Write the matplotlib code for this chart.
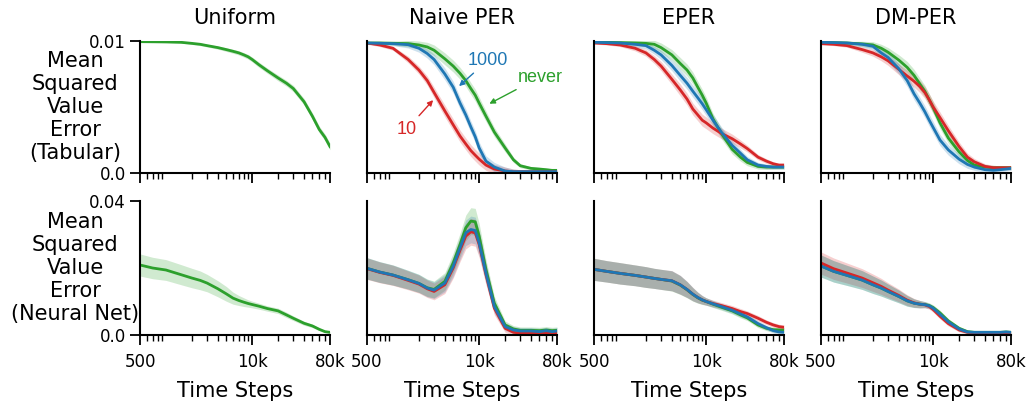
import numpy as np
import matplotlib
matplotlib.use('Agg')
import matplotlib.pyplot as plt
from matplotlib.ticker import NullFormatter

# time steps shared by every curve
steps = [500, 700, 1000, 1500, 2000, 2500, 3000, 4000, 5000, 6000, 7000, 8000,
         9000, 10000, 12000, 15000, 20000, 25000, 30000, 40000, 50000, 60000, 70000, 80000]

# ---- tabular MSVE (x 1e-3) ----
tab_uniform = [9.95, 9.94, 9.93, 9.9, 9.82, 9.75, 9.65, 9.5, 9.35, 9.22, 9.1, 8.95,
               8.8, 8.6, 8.2, 7.75, 7.2, 6.8, 6.4, 5.4, 4.3, 3.3, 2.7, 2.0]
tab_uniform_band = [0.05, 0.05, 0.06, 0.06, 0.08, 0.1, 0.1, 0.12, 0.14, 0.15, 0.16, 0.17,
                    0.18, 0.18, 0.2, 0.2, 0.22, 0.22, 0.24, 0.24, 0.25, 0.25, 0.25, 0.25]

tab_naive_10 = [9.85, 9.7, 9.45, 8.6, 7.8, 7.0, 6.1, 4.7, 3.65, 2.8, 2.2, 1.7,
                1.35, 1.05, 0.6, 0.3, 0.15, 0.1, 0.1, 0.1, 0.1, 0.1, 0.1, 0.1]
tab_naive_1000 = [9.85, 9.83, 9.8, 9.72, 9.45, 9.05, 8.6, 7.5, 6.5, 5.3, 4.4, 3.5,
                  2.75, 1.9, 0.9, 0.45, 0.15, 0.1, 0.1, 0.1, 0.1, 0.1, 0.1, 0.1]
tab_naive_never = [9.85, 9.85, 9.83, 9.8, 9.7, 9.55, 9.3, 8.65, 8.1, 7.55, 7.0, 6.4,
                   5.9, 5.3, 4.3, 3.1, 1.9, 1.0, 0.55, 0.35, 0.3, 0.25, 0.2, 0.2]
tab_naive_band = [0.1, 0.12, 0.15, 0.25, 0.3, 0.35, 0.4, 0.45, 0.45, 0.45, 0.45, 0.45,
                  0.45, 0.45, 0.4, 0.35, 0.3, 0.2, 0.15, 0.12, 0.12, 0.12, 0.12, 0.12]

tab_eper_10 = [9.85, 9.8, 9.7, 9.45, 9.1, 8.6, 8.1, 7.1, 6.3, 5.6, 4.85, 4.4,
               4.0, 3.8, 3.4, 3.0, 2.6, 2.2, 1.85, 1.2, 0.9, 0.7, 0.6, 0.6]
tab_eper_1000 = [9.9, 9.88, 9.85, 9.75, 9.65, 9.3, 8.95, 8.15, 7.4, 6.8, 6.2, 5.7,
                 5.25, 4.8, 4.0, 3.1, 2.1, 1.5, 1.0, 0.6, 0.5, 0.45, 0.45, 0.45]
tab_eper_never = [9.9, 9.9, 9.88, 9.85, 9.82, 9.75, 9.5, 8.95, 8.3, 7.8, 7.2, 6.5,
                  5.9, 5.3, 4.1, 3.0, 1.8, 1.2, 0.8, 0.5, 0.45, 0.45, 0.45, 0.45]
tab_eper_band = [0.08, 0.1, 0.12, 0.2, 0.25, 0.3, 0.35, 0.4, 0.45, 0.45, 0.45, 0.45,
                 0.45, 0.45, 0.42, 0.4, 0.35, 0.3, 0.25, 0.2, 0.18, 0.15, 0.15, 0.15]

tab_dm_10 = [9.8, 9.75, 9.65, 9.35, 9.1, 8.8, 8.5, 7.85, 7.35, 6.95, 6.55, 6.1,
             5.55, 5.0, 4.2, 3.2, 2.0, 1.2, 0.85, 0.5, 0.4, 0.4, 0.4, 0.4]
tab_dm_1000 = [9.9, 9.88, 9.85, 9.75, 9.6, 9.1, 8.75, 7.9, 7.0, 6.0, 5.3, 4.65,
               4.0, 3.45, 2.5, 1.75, 1.05, 0.65, 0.45, 0.25, 0.2, 0.25, 0.3, 0.35]
tab_dm_never = [9.9, 9.88, 9.85, 9.78, 9.7, 9.45, 9.15, 8.55, 8.0, 7.4, 6.75, 6.2,
                5.55, 4.95, 3.8, 2.65, 1.6, 0.95, 0.6, 0.45, 0.4, 0.4, 0.4, 0.4]
tab_dm_band = tab_eper_band

# ---- neural net MSVE (x 1e-3) ----
nn_uniform = [20.9, 20.0, 19.4, 18.0, 17.0, 16.3, 15.5, 13.8, 12.3, 11.0, 10.3, 9.8,
              9.4, 9.1, 8.6, 7.9, 7.2, 6.0, 5.0, 3.5, 2.7, 1.7, 1.0, 0.8]
nn_uniform_band = [3.3, 3.2, 3.1, 3.0, 2.9, 2.8, 2.6, 2.4, 2.2, 1.8, 1.5, 1.3,
                   1.1, 1.0, 0.9, 0.8, 0.8, 0.8, 0.7, 0.6, 0.5, 0.4, 0.3, 0.3]

nn_naive_10 = [19.8, 18.7, 17.8, 16.3, 15.2, 13.8, 13.0, 15.0, 20.0, 25.3, 29.5, 30.8,
               30.5, 27.0, 18.0, 8.0, 2.0, 0.8, 0.6, 0.6, 0.6, 0.6, 0.6, 0.6]
nn_naive_1000 = [19.9, 18.8, 17.9, 16.5, 15.4, 14.0, 13.4, 15.5, 20.5, 26.0, 30.5, 31.5,
                 31.2, 27.5, 18.4, 8.5, 2.5, 1.5, 1.2, 1.2, 1.0, 1.3, 1.0, 1.2]
nn_naive_never = [19.9, 18.8, 17.9, 16.5, 15.4, 14.1, 13.6, 16.0, 21.5, 27.0, 32.0, 34.0,
                  33.8, 29.5, 19.5, 9.5, 3.0, 1.8, 1.4, 1.4, 1.3, 1.5, 1.3, 1.4]
nn_naive_band = [3.2, 3.1, 3.0, 2.8, 2.7, 2.6, 2.5, 2.6, 3.0, 3.4, 3.8, 4.0,
                 4.0, 3.8, 3.0, 2.0, 1.2, 1.0, 1.0, 1.0, 1.0, 1.0, 1.0, 1.0]

nn_eper_10 = [19.6, 19.0, 18.4, 17.8, 17.3, 16.9, 16.6, 16.2, 15.0, 13.6, 12.2, 11.2,
              10.5, 10.0, 9.4, 8.8, 7.9, 7.0, 6.4, 5.0, 3.8, 3.0, 2.5, 2.3]
nn_eper_1000 = [19.6, 19.0, 18.4, 17.8, 17.3, 16.9, 16.6, 16.2, 15.0, 13.6, 12.2, 11.2,
                10.5, 10.0, 9.3, 8.5, 7.4, 6.3, 5.4, 3.4, 2.2, 1.3, 0.9, 0.8]
nn_eper_never = [19.6, 19.0, 18.4, 17.8, 17.3, 16.9, 16.6, 16.1, 14.9, 13.5, 12.1, 11.1,
                 10.4, 10.0, 9.2, 8.3, 7.2, 6.0, 5.1, 3.0, 2.0, 1.6, 1.5, 1.5]
nn_eper_band = [3.3, 3.2, 3.2, 3.1, 3.1, 3.0, 3.0, 3.0, 2.8, 2.4, 2.0, 1.6,
                1.3, 1.1, 1.0, 0.9, 0.9, 0.9, 0.8, 0.8, 0.7, 0.7, 0.7, 0.7]

nn_dm_10 = [21.5, 19.8, 18.5, 17.0, 15.6, 14.5, 13.4, 11.8, 10.4, 9.6, 9.2, 9.0,
            8.5, 7.6, 5.6, 3.4, 1.5, 0.8, 0.7, 0.7, 0.7, 0.7, 0.7, 0.7]
nn_dm_1000 = [20.6, 19.0, 17.8, 16.4, 15.0, 14.0, 13.0, 11.5, 10.2, 9.5, 9.2, 9.05,
              8.7, 8.0, 6.2, 3.9, 1.8, 0.9, 0.8, 0.8, 0.8, 0.8, 0.9, 0.8]
nn_dm_never = [20.6, 19.0, 17.8, 16.4, 15.0, 14.0, 13.0, 11.5, 10.2, 9.5, 9.2, 9.1,
               8.8, 8.2, 6.6, 4.2, 2.0, 1.0, 0.8, 0.8, 0.8, 0.8, 0.9, 0.8]
nn_dm_band = [3.3, 3.2, 3.0, 2.8, 2.6, 2.4, 2.2, 1.9, 1.6, 1.3, 1.1, 0.9,
              0.8, 0.8, 0.8, 0.7, 0.6, 0.5, 0.5, 0.5, 0.5, 0.5, 0.5, 0.5]

titles = ['Uniform', 'Naive PER', 'EPER', 'DM-PER']
ylabels = ['Mean\nSquared\nValue\nError\n(Tabular)', 'Mean\nSquared\nValue\nError\n(Neural Net)']
xtick_vals = [500, 10000, 80000]
xtick_labels = ['500', '10k', '80k']

c_red = '#d62728'
c_blue = '#1f77b4'
c_green = '#2ca02c'

# (curves, band) for each panel, curves drawn green, red, blue
panels = [
    [([(tab_uniform, c_green)], tab_uniform_band),
     ([(tab_naive_never, c_green), (tab_naive_10, c_red), (tab_naive_1000, c_blue)], tab_naive_band),
     ([(tab_eper_never, c_green), (tab_eper_10, c_red), (tab_eper_1000, c_blue)], tab_eper_band),
     ([(tab_dm_never, c_green), (tab_dm_10, c_red), (tab_dm_1000, c_blue)], tab_dm_band)],
    [([(nn_uniform, c_green)], nn_uniform_band),
     ([(nn_naive_never, c_green), (nn_naive_10, c_red), (nn_naive_1000, c_blue)], nn_naive_band),
     ([(nn_eper_never, c_green), (nn_eper_10, c_red), (nn_eper_1000, c_blue)], nn_eper_band),
     ([(nn_dm_never, c_green), (nn_dm_10, c_red), (nn_dm_1000, c_blue)], nn_dm_band)],
]
ymax = [0.01, 0.04]
ytick_labels = [['0.0', '0.01'], ['0.0', '0.04']]

W, H = 1029, 404
fig = plt.figure(figsize=(W / 100, H / 100), dpi=100)

col_left = [140, 367, 594, 821]
row_box = [(41, 173), (201, 335)]
x = np.array(steps)

axes = {}
for r in range(2):
    top, bot = row_box[r]
    for c in range(4):
        ax = fig.add_axes([col_left[c] / W, 1 - bot / H, 190 / W, (bot - top) / H])
        axes[(r, c)] = ax
        curves, band = panels[r][c]
        band = np.array(band) * 1e-3
        for vals, col in curves:
            m = np.array(vals) * 1e-3
            ax.fill_between(x, m - band, m + band, color=col, alpha=0.22, lw=0)
        for vals, col in curves:
            ax.plot(x, np.array(vals) * 1e-3, color=col, lw=2)
        ax.set_xscale('log')
        ax.set_xlim(500, 80000)
        ax.set_ylim(0, ymax[r])
        ax.spines['top'].set_visible(False)
        ax.spines['right'].set_visible(False)
        ax.spines['left'].set_linewidth(1.5)
        ax.spines['bottom'].set_linewidth(1.5)
        ax.set_xticks(xtick_vals)
        ax.xaxis.set_minor_formatter(NullFormatter())
        ax.tick_params(which='major', length=7, width=1.3, labelsize=12, pad=6)
        ax.tick_params(which='minor', length=4, width=1)
        if r == 1:
            ax.set_xticklabels(xtick_labels)
            ax.set_xlabel('Time Steps', fontsize=15, labelpad=7)
        else:
            ax.set_xticklabels([])
            ax.set_title(titles[c], fontsize=15, pad=12)
        if c == 0:
            ax.set_yticks([0, ymax[r]])
            ax.set_yticklabels(ytick_labels[r])
            ax.tick_params(axis='y', pad=3)
            ax.set_ylabel(ylabels[r], rotation=0, fontsize=15, ha='center', va='center')
            ax.yaxis.set_label_coords(-0.34, 0.5)
        else:
            ax.set_yticks([])

# arrow labels in the Naive PER tabular panel
ax = axes[(0, 1)]
arrow_font = ['Liberation Sans', 'DejaVu Sans']
ax.annotate('1000', xy=(5530, 0.00644), xytext=(12700, 0.00856), color=c_blue,
            fontsize=13, family=arrow_font, ha='center', va='center',
            arrowprops=dict(arrowstyle='-|>', color=c_blue, lw=1, mutation_scale=8))
ax.annotate('never', xy=(12300, 0.00515), xytext=(50800, 0.00727), color=c_green,
            fontsize=13, family=arrow_font, ha='center', va='center',
            arrowprops=dict(arrowstyle='-|>', color=c_green, lw=1, mutation_scale=8))
ax.annotate('10', xy=(3075, 0.00568), xytext=(1455, 0.00333), color=c_red,
            fontsize=13, family=arrow_font, ha='center', va='center',
            arrowprops=dict(arrowstyle='-|>', color=c_red, lw=1, mutation_scale=8))

fig.savefig('out.png', dpi=100)
